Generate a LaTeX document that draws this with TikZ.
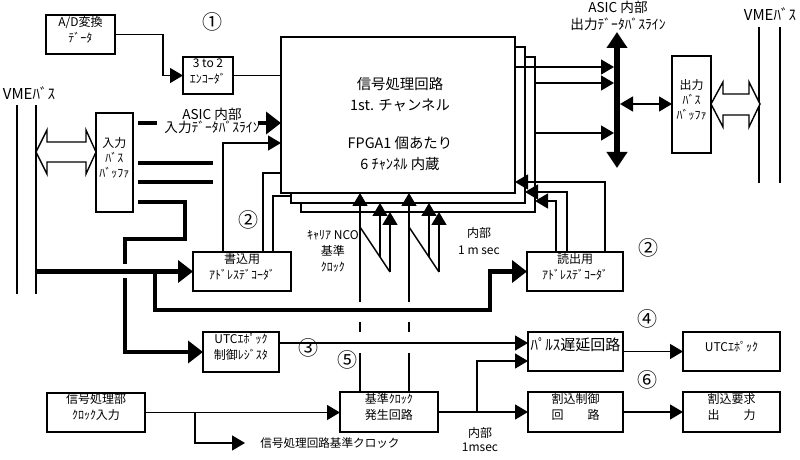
\documentclass[tikz,border=0pt]{standalone}
\usepackage{fontspec}
\setmainfont{Noto Sans CJK JP}
\usetikzlibrary{arrows.meta,fit}

\tikzset{
    blk/.style={draw, line width=0.85pt, fill=white, inner sep=0pt, outer sep=0pt, align=center},
    sig/.style={line width=0.7pt},
    bus/.style={line width=2.2pt},
    bigarrow/.style={-{Triangle[length=7.5pt,width=11pt]}},
    hollow/.style={draw, line width=0.7pt, fill=white},
    txt/.style={inner sep=0pt, align=center},
    num/.style={inner sep=0pt, font=\fontsize{10}{10}\selectfont},
}

\begin{document}
\begin{tikzpicture}[x=0.5pt, y=-0.5pt, >={Triangle[length=6.5pt,width=7.5pt]},
    font=\fontsize{6}{8}\selectfont]

    \useasboundingbox (0,0) rectangle (800,460);

    % stacked FPGA boxes
    \node[blk, fit={(301,57) (535,212)}] (fpga3) {};
    \node[blk, fit={(291,47) (525,203)}] (fpga2) {};
    \node[blk, fit={(281,37) (515,193)}] (fpga1) {};
    \node[txt, font=\fontsize{7.2}{10.5}\selectfont] (fpgatext) at (400,124)
        {信号処理回路\\1st. チャンネル\\[8.5pt]FPGA1 個あたり\\6 ﾁｬﾝﾈﾙ 内蔵};

    % blocks
    \node[blk, fit={(46,15) (115,54)}] (adconv) {A/D変換\\ﾃﾞｰﾀ};
    \node[blk, fit={(183,57) (233,94)}] (enc) {3 to 2\\ｴﾝｺｰﾀﾞ};
    \node[blk, fit={(96,113) (133,212)}, font=\fontsize{6}{7.5}\selectfont] (inbuf) {入力\\ﾊﾞｽ\\ﾊﾞｯﾌｧ};
    \node[blk, fit={(672,56) (711,153)}, font=\fontsize{6}{7.5}\selectfont] (outbuf) {出力\\ﾊﾞｽ\\ﾊﾞｯﾌｧ};
    \node[blk, fit={(193,252) (291,291)}] (wdec) {書込用\\ｱﾄﾞﾚｽﾃﾞｺｰﾀﾞ};
    \node[blk, fit={(527,252) (623,291)}] (rdec) {読出用\\ｱﾄﾞﾚｽﾃﾞｺｰﾀﾞ};
    \node[blk, fit={(203,332) (279,372)}] (utcreg) {UTCｴﾎﾟｯｸ\\制御ﾚｼﾞｽﾀ};
    \node[blk, fit={(528,332) (623,371)}, font=\fontsize{7.5}{8}\selectfont] (pdelay) {ﾊﾟﾙｽ遅延回路};
    \node[blk, fit={(683,332) (780,371)}] (utcep) {UTCｴﾎﾟｯｸ};
    \node[blk, fit={(528,392) (623,432)}] (intctl) {割込制御\\回\qquad 路};
    \node[blk, fit={(683,392) (780,432)}] (intreq) {割込要求\\出\qquad 力};
    \node[blk, fit={(340,392) (438,432)}] (clkgen) {基準ｸﾛｯｸ\\発生回路};
    \node[blk, fit={(47,393) (145,432)}] (clkin) {信号処理部\\ｸﾛｯｸ入力};

    % labels
    \node[txt, font=\fontsize{7.5}{8}\selectfont] (vmeleft) at (29,93) {VMEﾊﾞｽ};
    \node[txt, font=\fontsize{7.5}{8}\selectfont] (vmeright) at (770,14) {VMEﾊﾞｽ};
    \node[txt, font=\fontsize{6.8}{6.8}\selectfont] (inlabel) at (212,121) {ASIC 内部\\入力ﾃﾞｰﾀﾊﾞｽﾗｲﾝ};
    \node[txt, font=\fontsize{6.8}{8.5}\selectfont] (outlabel) at (618,16) {ASIC 内部\\出力ﾃﾞｰﾀﾊﾞｽﾗｲﾝ};
    \node[txt] (ncolabel) at (333,251) {ｷｬﾘｱ NCO\\基準\\ｸﾛｯｸ};
    \node[txt, font=\fontsize{6}{8.5}\selectfont] (mslabel) at (479,241) {内部\\1 m sec};
    \node[txt, font=\fontsize{6}{7}\selectfont] (msec) at (480,440) {内部\\1msec};
    \node[txt, anchor=west, inner xsep=7.5pt, font=\fontsize{5.8}{7}\selectfont] (clkout) at (245,443)
        {信号処理回路基準クロック};

    \node[num] (c1) at (212,22) {①};
    \node[num] (c2a) at (248,220) {②};
    \node[num] (c2b) at (648,248) {②};
    \node[num] (c3) at (308,348) {③};
    \node[num] (c4) at (647,319) {④};
    \node[num] (c5) at (347,360) {⑤};
    \node[num] (c6) at (647,380) {⑥};

    % VME bus
    \coordinate (vmeLa) at (17,105);
    \coordinate (vmeLb) at (36,105);
    \draw[sig] (vmeLa) -- ++(0,189);
    \draw[sig] (vmeLb) -- ++(0,189);
    \coordinate (vmeRa) at (759,27);
    \coordinate (vmeRb) at (780,27);
    \draw[sig] (vmeRa) -- ++(0,156);
    \draw[sig] (vmeRb) -- ++(0,156);

    % hollow bus arrows
    \draw[hollow] (36,152) -- (47,130) -- (47,142) -- (86,142) -- (86,130)
        -- (inbuf.west |- 0,152) -- (86,174) -- (86,162) -- (47,162) -- (47,174) -- cycle;
    \draw[hollow] (outbuf.east |- 0,104) -- (723,82) -- (723,94) -- (749,94) -- (749,82)
        -- (760,104) -- (749,127) -- (749,115) -- (723,115) -- (723,127) -- cycle;

    % encoder
    \draw[sig, ->] (adconv.east) -- ++(48,0) |- (enc.west);
    \draw[sig] (enc.east) -- (enc.east -| fpga1.west);

    % input data bus
    \draw[bus] (138,123) -- (157,123);
    \draw[bus, bigarrow] (258,123) -- (fpga1.west |- 0,123);
    \draw[bus] (138,163) -- (213,163);
    \draw[bus] (138,182) -- (213,182);
    \draw[bus] (138,202) -- (185,202) -- (185,239) -- (125,239) -- (125,264);
    \draw[bus, bigarrow] (125,278) |- (utcreg.west);

    % VME to decoders
    \draw[bus, bigarrow] (wdec.west -| vmeLb) -- (wdec.west);
    \draw[bus, bigarrow] (155,271.5) -- (155,310) -| (490,271.5) -- (rdec.west);

    % write decoder
    \draw[sig, ->] (wdec.north -| 223,0) |- (fpga1.west |- 0,143);
    \draw[sig] (wdec.north -| 263,0) |- (fpga1.west |- 0,173);
    \draw[sig] (wdec.north -| 273,0) |- (fpga2.west |- 0,196);

    % read decoder
    \draw[sig, ->] (rdec.north -| 605,0) |- (fpga1.east |- 0,182);
    \draw[sig, ->] (rdec.north -| 567,0) |- (fpga2.east |- 0,192);
    \draw[sig, ->] (rdec.north -| 556,0) |- (fpga3.east |- 0,201);

    % output data bus
    \coordinate (obtop) at (617,32);
    \coordinate (obbot) at (617,168);
    \draw[line width=2.6pt, {Triangle[length=8pt,width=10pt]}-{Triangle[length=8pt,width=10pt]}]
        (obtop) -- (obbot);
    \draw[sig, ->] (fpga1.east |- 0,67) -- (614,67);
    \draw[sig, ->] (fpga3.east |- 0,83) -- (614,83);
    \draw[sig, ->] (fpga3.east |- 0,133) -- (614,133);
    \draw[sig, <->] (620,104) -- (outbuf.west |- 0,104);

    % clock lines
    \foreach \cx/\cb/\cc in {360/380/390, 409/429/439}{
        \draw[sig] (clkgen.north -| \cx,0) -- (\cx,353);
        \draw[sig] (\cx,332) -- (\cx,322);
        \draw[sig, ->] (\cx,302) -- (fpga1.south -| \cx,0);
        \draw[sig] (\cx,227) -- (\cc,272);
        \draw[sig, ->] (\cb,257) -- (fpga2.south -| \cb,0);
        \draw[sig, ->] (\cc,272) -- (fpga3.south -| \cc,0);
    }

    % timing chain
    \draw[sig, ->] (utcreg.east |- 0,343) -- (pdelay.west |- 0,343);
    \draw[sig, ->] (pdelay) -- (utcep);
    \draw[sig, ->] (intctl) -- (intreq);
    \draw[sig, ->] (clkgen) -- (intctl);
    \draw[sig, ->] (clkgen.east -| 477,0) |- (pdelay.west |- 0,361);
    \draw[sig, ->] (clkin.east) -- (clkin.east -| clkgen.west);
    \draw[sig, ->] (clkin.east -| 195,0) |- (clkout.west);

\end{tikzpicture}
\end{document}
